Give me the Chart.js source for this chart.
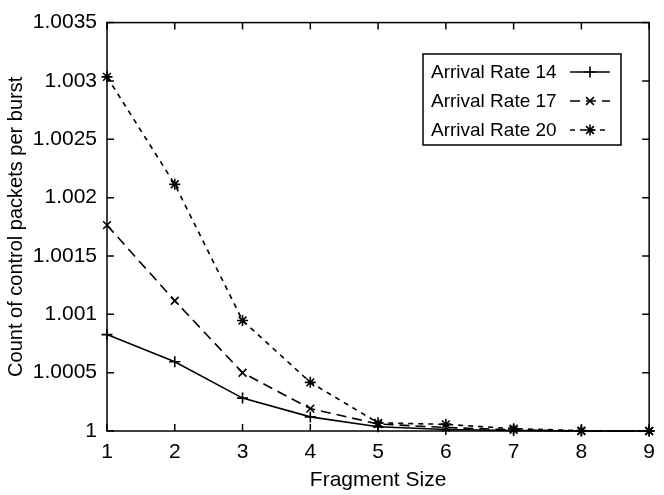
<!DOCTYPE html>
<html>
<head>
<meta charset="utf-8">
<script src="https://cdn.jsdelivr.net/npm/chart.js@4.4.1/dist/chart.umd.min.js"></script>
<style>
  html, body { margin: 0; padding: 0; background: #fff; }
  #wrap { width: 664px; height: 495px; }
</style>
</head>
<body>
<div id="wrap"><canvas id="burstChart" width="664" height="495"></canvas></div>
<script>
// Fragment sizes along the x axis
const fragmentSizes = [1, 2, 3, 4, 5, 6, 7, 8, 9];

// Control packets per burst for each arrival rate
const rate14 = [1.000826, 1.000594, 1.000282, 1.000121, 1.000036, 1.000013, 1.000004, 1.0, 1.0];
const rate17 = [1.001764, 1.001116, 1.000499, 1.000192, 1.00006, 1.00003, 1.00001, 1.0, 1.0];
const rate20 = [1.003035, 1.002114, 1.000947, 1.000417, 1.00007, 1.000057, 1.00002, 1.000003, 1.0];

const seriesNames = ['Arrival Rate 14', 'Arrival Rate 17', 'Arrival Rate 20'];
const yTicks = [1, 1.0005, 1.001, 1.0015, 1.002, 1.0025, 1.003, 1.0035];

const FONT = '"Liberation Sans", Arial, Helvetica, sans-serif';

function toPoints(values) {
    return fragmentSizes.map((x, i) => ({ x: x, y: values[i] }));
}

// gnuplot-style frame with inward ticks on all four sides
const framePlugin = {
    id: 'frame',
    afterDatasetsDraw(chart) {
        const { ctx, chartArea: a, scales } = chart;
        const len = 7;
        ctx.save();
        ctx.strokeStyle = '#000';
        ctx.lineWidth = 1.5;
        ctx.beginPath();
        scales.x.ticks.forEach((t, i) => {
            const px = scales.x.getPixelForTick(i);
            ctx.moveTo(px, a.bottom); ctx.lineTo(px, a.bottom - len);
            ctx.moveTo(px, a.top); ctx.lineTo(px, a.top + len);
        });
        scales.y.ticks.forEach((t, i) => {
            const py = scales.y.getPixelForTick(i);
            ctx.moveTo(a.left, py); ctx.lineTo(a.left + len, py);
            ctx.moveTo(a.right, py); ctx.lineTo(a.right - len, py);
        });
        ctx.stroke();
        ctx.strokeRect(a.left, a.top, a.right - a.left, a.bottom - a.top);
        ctx.restore();
    }
};

// Boxed key: label on the left, line sample with marker on the right
const keyPlugin = {
    id: 'key',
    afterDraw(chart) {
        const ctx = chart.ctx;
        const box = { x: 423, y: 54, w: 198, h: 91 };
        const rowY = [72, 101, 130];
        ctx.save();
        ctx.strokeStyle = '#000';
        ctx.lineWidth = 1.5;
        ctx.strokeRect(box.x, box.y, box.w, box.h);
        ctx.font = '19px ' + FONT;
        ctx.fillStyle = '#000';
        ctx.textBaseline = 'middle';
        ctx.textAlign = 'left';
        chart.data.datasets.forEach((ds, i) => {
            const y = rowY[i];
            ctx.fillText(ds.label, 431, y + 1);
            ctx.setLineDash(ds.borderDash || []);
            ctx.lineWidth = ds.borderWidth;
            ctx.beginPath();
            ctx.moveTo(570, y);
            ctx.lineTo(610, y);
            ctx.stroke();
            ctx.setLineDash([]);
            Chart.helpers.drawPoint(ctx, {
                pointStyle: ds.pointStyle,
                radius: ds.pointRadius,
                borderWidth: ds.pointBorderWidth,
                rotation: 0
            }, 590, y);
        });
        ctx.restore();
    }
};

const styles = [
    { dash: [], point: 'cross' },
    { dash: [10, 6], point: 'crossRot' },
    { dash: [5, 5], point: 'star' }
];

const datasets = [rate14, rate17, rate20].map((values, i) => ({
    label: seriesNames[i],
    data: toPoints(values),
    borderColor: '#000',
    backgroundColor: '#000',
    borderWidth: 1.6,
    borderDash: styles[i].dash,
    pointStyle: styles[i].point,
    pointRadius: 5.5,
    pointBorderWidth: 1.6,
    pointBorderColor: '#000',
    tension: 0,
    clip: false
}));

const ctx = document.getElementById('burstChart').getContext('2d');
new Chart(ctx, {
    type: 'line',
    data: { datasets: datasets },
    options: {
        responsive: false,
        animation: false,
        layout: { padding: { top: 18, right: 7, left: 0, bottom: 0 } },
        plugins: {
            legend: { display: false },
            tooltip: { enabled: false }
        },
        scales: {
            x: {
                type: 'linear',
                min: 1,
                max: 9,
                ticks: {
                    stepSize: 1,
                    padding: 9,
                    color: '#000',
                    font: { family: FONT, size: 21 }
                },
                grid: { drawOnChartArea: false, drawTicks: false },
                border: { display: false },
                title: {
                    display: true,
                    text: 'Fragment Size',
                    color: '#000',
                    font: { family: FONT, size: 21 },
                    padding: { top: 0, bottom: 2 }
                },
                afterFit(scale) { scale.height = 64; }
            },
            y: {
                type: 'linear',
                min: yTicks[0],
                max: yTicks[yTicks.length - 1],
                afterBuildTicks(scale) {
                    scale.ticks = yTicks.map(v => ({ value: v }));
                },
                ticks: {
                    padding: 10,
                    color: '#000',
                    font: { family: FONT, size: 21 },
                    callback: v => String(parseFloat(v.toFixed(4)))
                },
                grid: { drawOnChartArea: false, drawTicks: false },
                border: { display: false },
                title: {
                    display: true,
                    text: 'Count of control packets per burst',
                    color: '#000',
                    font: { family: FONT, size: 20 },
                    padding: { top: 4, bottom: 0 }
                },
                afterFit(scale) { scale.width = 107; }
            }
        }
    },
    plugins: [framePlugin, keyPlugin]
});
</script>
</body>
</html>
